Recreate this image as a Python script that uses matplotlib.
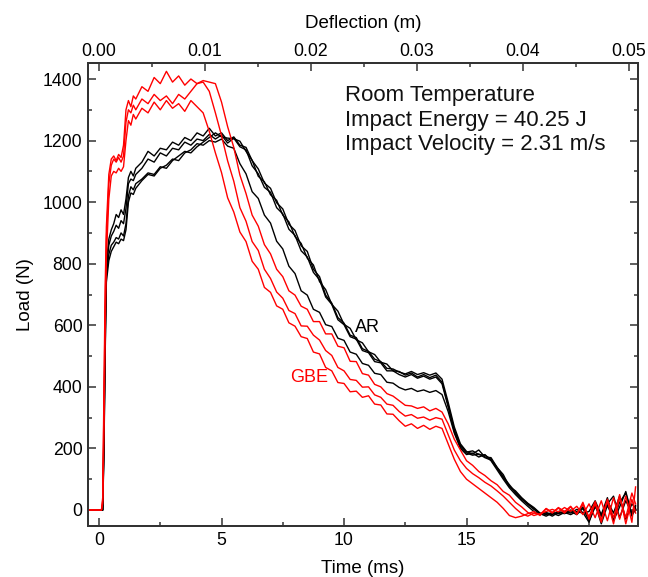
import matplotlib
matplotlib.use("Agg")
import matplotlib.pyplot as plt
from matplotlib.ticker import MultipleLocator, FormatStrFormatter

plt.rcParams['font.family'] = ['Liberation Sans', 'DejaVu Sans']

# time base shared by all traces (ms)
time_ms = [
    -0.45, 0.10, 0.15, 0.20, 0.25, 0.30, 0.40, 0.50, 0.60, 0.70,
    0.80, 0.90, 1.00, 1.10, 1.20, 1.30, 1.40, 1.50, 1.75, 2.00,
    2.25, 2.50, 2.75, 3.00, 3.25, 3.50, 3.75, 4.00, 4.25, 4.50,
    4.75, 5.00, 5.25, 5.50, 5.75, 6.00, 6.25, 6.50, 6.75, 7.00,
    7.25, 7.50, 7.75, 8.00, 8.25, 8.50, 8.75, 9.00, 9.25, 9.50,
    9.75, 10.00, 10.25, 10.50, 10.75, 11.00, 11.25, 11.50, 11.75, 12.00,
    12.25, 12.50, 12.75, 13.00, 13.25, 13.50, 13.75, 14.00, 14.25, 14.50,
    14.75, 15.00, 15.25, 15.50, 15.75, 16.00, 16.25, 16.50, 16.75, 17.00,
    17.25, 17.50, 17.75, 18.00, 18.25, 18.50, 18.75, 19.00, 19.25, 19.50,
    19.75, 20.00, 20.25, 20.50, 20.75, 21.00, 21.25, 21.50, 21.75, 21.90,
]

# AR specimens (black), load in N
ar_1 = [
    0, 0, 0, 250, 600, 800, 880, 910, 930, 960,
    950, 975, 960, 1010, 1080, 1100, 1085, 1110, 1130, 1165,
    1150, 1175, 1170, 1195, 1185, 1210, 1200, 1225, 1215, 1240,
    1215, 1225, 1200, 1212, 1185, 1178, 1135, 1108, 1062, 1045,
    998, 978, 928, 908, 858, 840, 782, 758, 698, 672,
    625, 607, 568, 560, 524, 515, 490, 482, 460, 458,
    448, 442, 450, 440, 446, 438, 445, 425, 350, 270,
    215, 190, 182, 195, 172, 170, 138, 115, 76, 62,
    40, 22, 8, -10, -15, -8, -12, -4, -10, 2,
    -8, -40, 15, -20, 30, -10, 45, -30, 20, 5,
]
ar_2 = [
    0, 0, 0, 220, 560, 780, 860, 890, 905, 925,
    915, 940, 930, 980, 1060, 1075, 1070, 1090, 1110, 1140,
    1130, 1160, 1150, 1175, 1170, 1195, 1185, 1205, 1200, 1220,
    1205, 1218, 1192, 1208, 1180, 1170, 1118, 1092, 1048, 1032,
    982, 962, 912, 892, 842, 822, 772, 748, 692, 668,
    618, 602, 563, 555, 518, 511, 482, 478, 452, 452,
    440, 432, 440, 428, 435, 425, 432, 410, 335, 255,
    205, 185, 178, 182, 170, 162, 135, 105, 78, 55,
    35, 18, 2, -12, -8, -15, -5, -10, 0, -8,
    10, -25, 20, -45, 15, -30, 25, 55, -20, 10,
]
ar_3 = [
    0, 0, 0, 200, 520, 760, 830, 860, 870, 885,
    880, 900, 890, 930, 1020, 1050, 1040, 1060, 1075, 1095,
    1090, 1115, 1110, 1135, 1150, 1165, 1160, 1180, 1195, 1210,
    1225, 1212, 1208, 1206, 1198, 1165, 1136, 1084, 1066, 1024,
    1006, 958, 936, 888, 866, 818, 796, 742, 716, 668,
    646, 603, 590, 553, 543, 514, 505, 480, 474, 452,
    450, 438, 445, 432, 440, 430, 438, 415, 340, 262,
    210, 188, 192, 180, 178, 165, 138, 108, 82, 58,
    38, 20, 5, -12, -20, -10, -18, -8, -15, -5,
    -10, -5, 30, -15, 40, -35, 10, 60, -15, 0,
]
ar_4 = [
    0, 0, 0, 180, 500, 740, 810, 840, 855, 870,
    865, 880, 875, 910, 1000, 1030, 1025, 1045, 1070, 1090,
    1085, 1110, 1120, 1140, 1135, 1160, 1170, 1190, 1185, 1200,
    1195, 1205, 1182, 1175, 1125, 1092, 1034, 1012, 958, 932,
    873, 848, 792, 768, 712, 698, 652, 642, 602, 596,
    558, 551, 513, 506, 476, 470, 444, 440, 415, 412,
    398, 390, 395, 385, 390, 382, 388, 375, 320, 250,
    200, 180, 185, 172, 180, 160, 130, 100, 72, 50,
    30, 12, -5, -15, -10, -20, -8, -12, -5, -15,
    5, -35, 10, -20, 20, 45, -25, 30, -10, 15,
]

# GBE specimens (red), load in N
gbe_1 = [
    0, 0, 40, 380, 720, 920, 1090, 1140, 1150, 1135,
    1155, 1145, 1185, 1300, 1330, 1310, 1345, 1335, 1375, 1360,
    1405, 1385, 1425, 1390, 1410, 1380, 1400, 1385, 1395, 1390,
    1385, 1325, 1245, 1178, 1088, 1028, 958, 922, 862, 832,
    782, 758, 712, 698, 662, 652, 612, 612, 572, 572,
    532, 527, 483, 482, 443, 438, 408, 400, 378, 370,
    355, 340, 338, 330, 335, 322, 330, 318, 280, 230,
    195, 160, 145, 125, 112, 95, 82, 60, 48, 25,
    10, -8, -18, -12, -5, 2, -6, 8, -4, 12,
    -15, 20, -25, 30, -35, 40, -30, 45, -40, 75,
]
gbe_2 = [
    0, 0, 30, 330, 660, 880, 1060, 1120, 1140, 1130,
    1145, 1130, 1150, 1260, 1300, 1290, 1315, 1300, 1335, 1320,
    1350, 1330, 1345, 1320, 1350, 1335, 1360, 1385, 1390, 1360,
    1290, 1216, 1134, 1068, 982, 938, 872, 843, 782, 752,
    708, 688, 648, 638, 598, 597, 568, 552, 518, 502,
    463, 452, 424, 421, 399, 400, 374, 366, 344, 340,
    320, 305, 310, 298, 302, 292, 300, 295, 245, 195,
    160, 135, 118, 105, 90, 78, 62, 45, 25, 5,
    -12, -20, -10, -15, 5, -8, 6, -10, 10, -12,
    18, -22, 28, -32, 35, -25, 50, -45, 35, -10,
]
gbe_3 = [
    0, 0, 20, 260, 580, 820, 1010, 1085, 1100, 1095,
    1110, 1100, 1115, 1200, 1265, 1250, 1285, 1270, 1305, 1290,
    1325, 1300, 1330, 1305, 1320, 1295, 1330, 1310, 1290, 1230,
    1160, 1096, 1014, 968, 903, 872, 808, 782, 723, 707,
    663, 652, 608, 597, 563, 557, 513, 507, 463, 452,
    414, 411, 384, 386, 366, 371, 344, 341, 312, 311,
    290, 272, 280, 265, 275, 262, 272, 265, 215, 165,
    125, 100, 85, 70, 55, 40, 25, 5, -18, -25,
    -20, -12, -5, -18, 4, -10, 8, -5, 12, -15,
    25, -30, 20, -40, 30, -45, 40, -25, 55, 20,
]

ar_curves = [ar_1, ar_2, ar_3, ar_4]
gbe_curves = [gbe_1, gbe_2, gbe_3]

fig = plt.figure(figsize=(6.48, 5.77), dpi=100)
ax = fig.add_axes([0.1358, 0.0884, 0.8488, 0.8024])

for load in ar_curves:
    ax.plot(time_ms, load, color='black', lw=1.0)
for load in gbe_curves:
    ax.plot(time_ms, load, color='red', lw=1.0)

ax.set_xlim(-0.45, 22.0)
ax.set_ylim(-52, 1452)
ax.xaxis.set_major_locator(MultipleLocator(5))
ax.xaxis.set_minor_locator(MultipleLocator(2.5))
ax.yaxis.set_major_locator(MultipleLocator(200))
ax.yaxis.set_minor_locator(MultipleLocator(100))
ax.tick_params(which='both', direction='in', right=True, top=False,
               labelsize=12.7, width=1.1, color='#333333')
ax.tick_params(which='major', length=6, pad=4)
ax.tick_params(which='minor', length=3)
ax.set_xlabel('Time (ms)', fontsize=13.5, labelpad=8)
ax.set_ylabel('Load (N)', fontsize=13.5, labelpad=6)

ax2 = ax.twiny()
ax2.set_xlim(-0.00104, 0.05085)
ax2.xaxis.set_major_locator(MultipleLocator(0.01))
ax2.xaxis.set_minor_locator(MultipleLocator(0.005))
ax2.xaxis.set_major_formatter(FormatStrFormatter('%.2f'))
ax2.tick_params(which='both', direction='in', labelsize=12.7,
                width=1.1, color='#333333')
ax2.tick_params(which='major', length=6, pad=2)
ax2.tick_params(which='minor', length=3)
ax2.set_xlabel('Deflection (m)', fontsize=13.5, labelpad=11)

for a in (ax, ax2):
    for sp in a.spines.values():
        sp.set_linewidth(1.4)
        sp.set_color('#333333')

ax.text(0.467, 0.952, 'Room Temperature\nImpact Energy = 40.25 J\nImpact Velocity = 2.31 m/s',
        transform=ax.transAxes, ha='left', va='top', fontsize=16,
        linespacing=1.22, color='#111111')
ax.text(10.45, 594, 'AR', color='black', fontsize=13, va='center', ha='left')
ax.text(7.8, 432, 'GBE', color='red', fontsize=13, va='center', ha='left')

fig.savefig('out.png', dpi=100)
